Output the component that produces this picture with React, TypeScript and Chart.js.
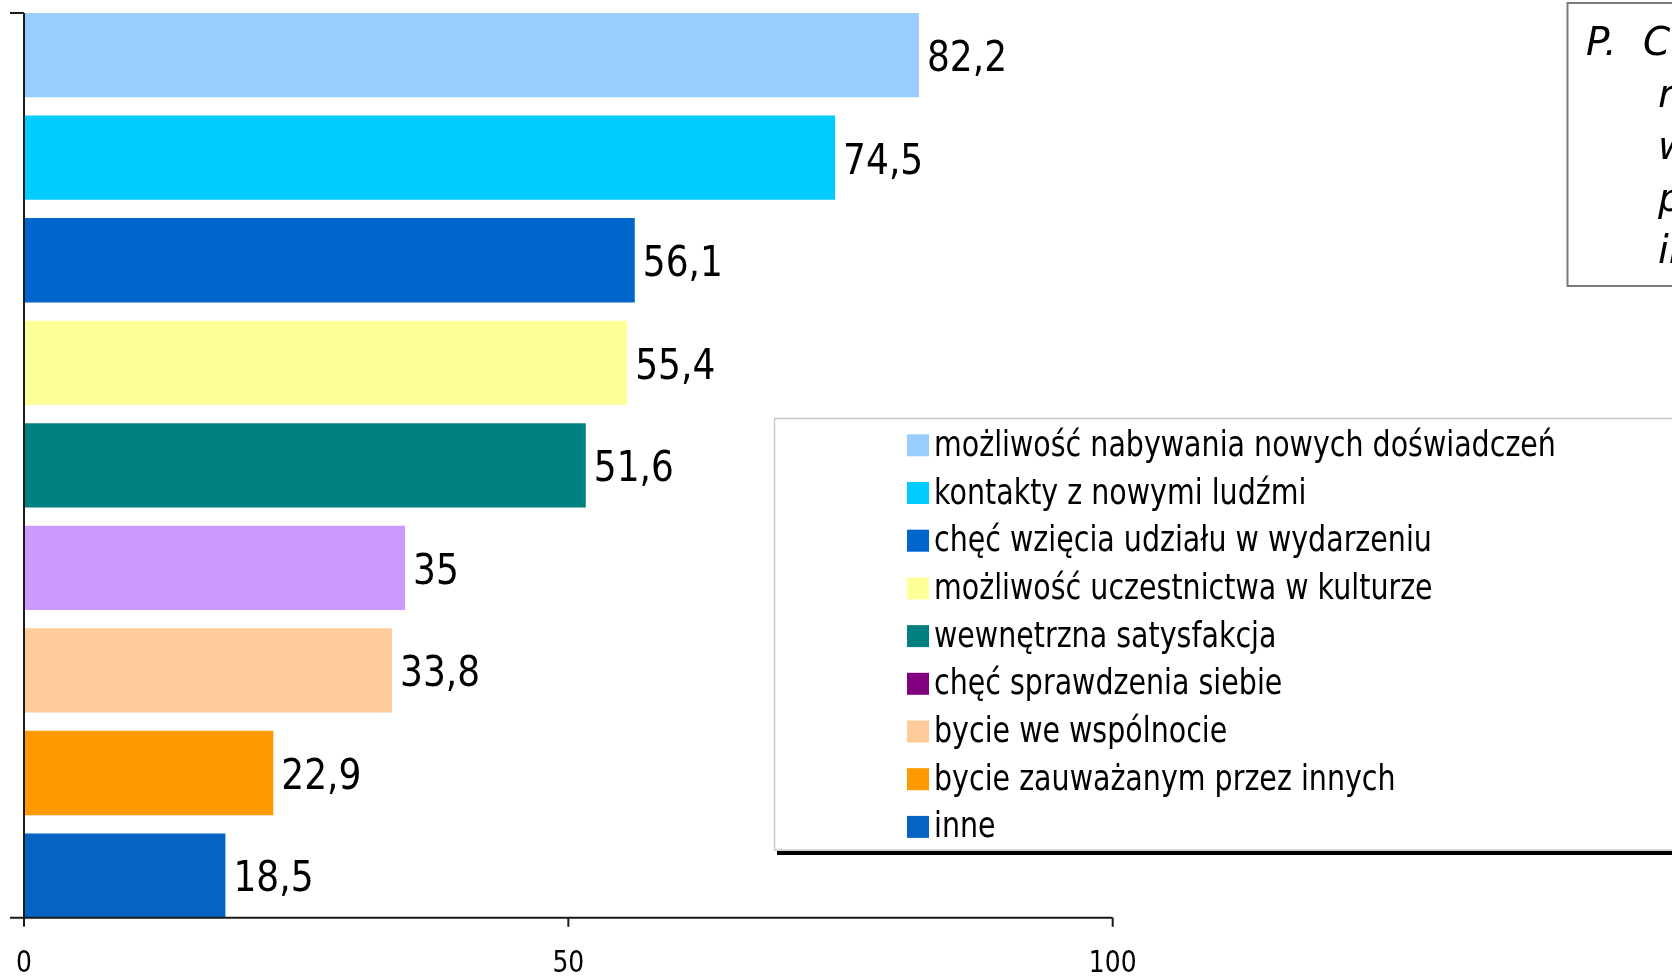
import React, { useEffect, useRef } from "react";
import { Chart, registerables } from "chart.js";

Chart.register(...registerables);

const categories = [
  "możliwość nabywania nowych doświadczeń",
  "kontakty z nowymi ludźmi",
  "chęć wzięcia udziału w wydarzeniu",
  "możliwość uczestnictwa w kulturze",
  "wewnętrzna satysfakcja",
  "chęć sprawdzenia siebie",
  "bycie we wspólnocie",
  "bycie zauważanym przez innych",
  "inne",
];
const values = [82.2, 74.5, 56.1, 55.4, 51.6, 35, 33.8, 22.9, 18.5];
const barColors = [
  "#99CCFF",
  "#00CCFF",
  "#0066CC",
  "#FFFF99",
  "#008080",
  "#CC99FF",
  "#FFCC99",
  "#FF9900",
  "#0563C1",
];
const legendColors = [
  "#99CCFF",
  "#00CCFF",
  "#0066CC",
  "#FFFF99",
  "#008080",
  "#800080",
  "#FFCC99",
  "#FF9900",
  "#0563C1",
];
const xTicks = [0, 50, 100];
const noteFirstPrefix = "P.";
const noteLines = [
  "Co skłoniło Państwa do",
  "rozpoczęcia",
  "współpracy",
  "przy organizacji",
  "imprez?",
];

const fmt = (v: number) => String(v).replace(".", ",");

function drawText(
  ctx: CanvasRenderingContext2D,
  text: string,
  x: number,
  y: number,
  font: string,
  sy: number,
  align: CanvasTextAlign
) {
  ctx.save();
  ctx.translate(x, y);
  ctx.scale(1, sy);
  ctx.font = font;
  ctx.textAlign = align;
  ctx.textBaseline = "alphabetic";
  ctx.fillStyle = "#000";
  ctx.fillText(text, 0, 0);
  ctx.restore();
}

const overlayPlugin = {
  id: "overlay",
  afterDatasetsDraw(chart: any) {
    const ctx: CanvasRenderingContext2D = chart.ctx;
    const xs = chart.scales.x;
    const meta = chart.getDatasetMeta(0);
    const labelFont = '36px "DejaVu Sans"';
    meta.data.forEach((bar: any, i: number) => {
      const p = bar.getProps(["x", "y", "height"], true);
      drawText(ctx, fmt(values[i]), p.x + 8, p.y + 15.8, labelFont, 1.2, "left");
    });

    // axes
    const x0 = xs.getPixelForValue(0);
    const firstBar = meta.data[0].getProps(["y", "height"], true);
    const lastBar = meta.data[meta.data.length - 1].getProps(["y", "height"], true);
    const topY = firstBar.y - firstBar.height / 2;
    const axisY = lastBar.y + lastBar.height / 2;
    ctx.save();
    ctx.strokeStyle = "#1a1a1a";
    ctx.lineWidth = 2;
    ctx.beginPath();
    ctx.moveTo(x0, topY);
    ctx.lineTo(x0, axisY);
    ctx.moveTo(10, topY);
    ctx.lineTo(x0, topY);
    ctx.moveTo(10, axisY);
    ctx.lineTo(xs.getPixelForValue(100), axisY);
    xTicks.forEach((t) => {
      const px = xs.getPixelForValue(t);
      ctx.moveTo(px, axisY);
      ctx.lineTo(px, axisY + 9);
    });
    ctx.stroke();
    ctx.restore();
    xTicks.forEach((t) => {
      const px = xs.getPixelForValue(t);
      drawText(ctx, String(t), px, 971.5, '25px "DejaVu Sans"', 1.2, "center");
    });

    // legend box
    ctx.save();
    ctx.fillStyle = "#000";
    ctx.fillRect(777, 851, 1000, 4);
    ctx.fillStyle = "#fff";
    ctx.fillRect(774.5, 418.5, 1000, 431.5);
    ctx.strokeStyle = "#c8c8c8";
    ctx.lineWidth = 1.5;
    ctx.strokeRect(774.5, 418.5, 1000, 431.5);
    ctx.restore();
    categories.forEach((c, i) => {
      const sy = 434.3 + i * 47.7;
      ctx.fillStyle = legendColors[i];
      ctx.fillRect(907, sy, 22, 22);
      drawText(ctx, c, 934, sy + 21.5, '28.5px "DejaVu Sans"', 1.22, "left");
    });

    // note box
    ctx.save();
    ctx.fillStyle = "#fff";
    ctx.fillRect(1567.5, 3, 200, 283);
    ctx.strokeStyle = "#7a7a7a";
    ctx.lineWidth = 2;
    ctx.strokeRect(1567.5, 3, 200, 283);
    ctx.restore();
    const noteFont = 'italic 39px "DejaVu Sans"';
    drawText(ctx, noteFirstPrefix, 1586, 55, noteFont, 1, "left");
    drawText(ctx, noteLines[0], 1643, 55, noteFont, 1, "left");
    for (let i = 1; i < noteLines.length; i++) {
      drawText(ctx, noteLines[i], 1658, 55 + i * 52, noteFont, 1, "left");
    }
  },
};

export default function App() {
  const ref = useRef<HTMLCanvasElement | null>(null);
  useEffect(() => {
    if (!ref.current) return;
    const chart = new Chart(ref.current, {
      type: "bar",
      data: {
        labels: categories,
        datasets: [
          {
            data: values,
            backgroundColor: barColors,
            borderWidth: 0,
            barPercentage: 0.822,
            categoryPercentage: 1,
          },
        ],
      },
      options: {
        indexAxis: "y",
        responsive: false,
        animation: false,
        events: [],
        layout: { padding: { left: 24, right: 559.3, top: 3.9, bottom: 49.2 } },
        plugins: { legend: { display: false }, tooltip: { enabled: false } },
        scales: {
          x: { type: "linear", min: 0, max: 100, display: false },
          y: { type: "category", display: false, offset: true },
        },
      },
      plugins: [overlayPlugin],
    });
    return () => chart.destroy();
  }, []);
  return (
    <div style={{ position: "fixed", left: 0, top: 0, width: 1672, height: 976, background: "#fff" }}>
      <canvas ref={ref} width={1672} height={976} style={{ display: "block" }} />
    </div>
  );
}
